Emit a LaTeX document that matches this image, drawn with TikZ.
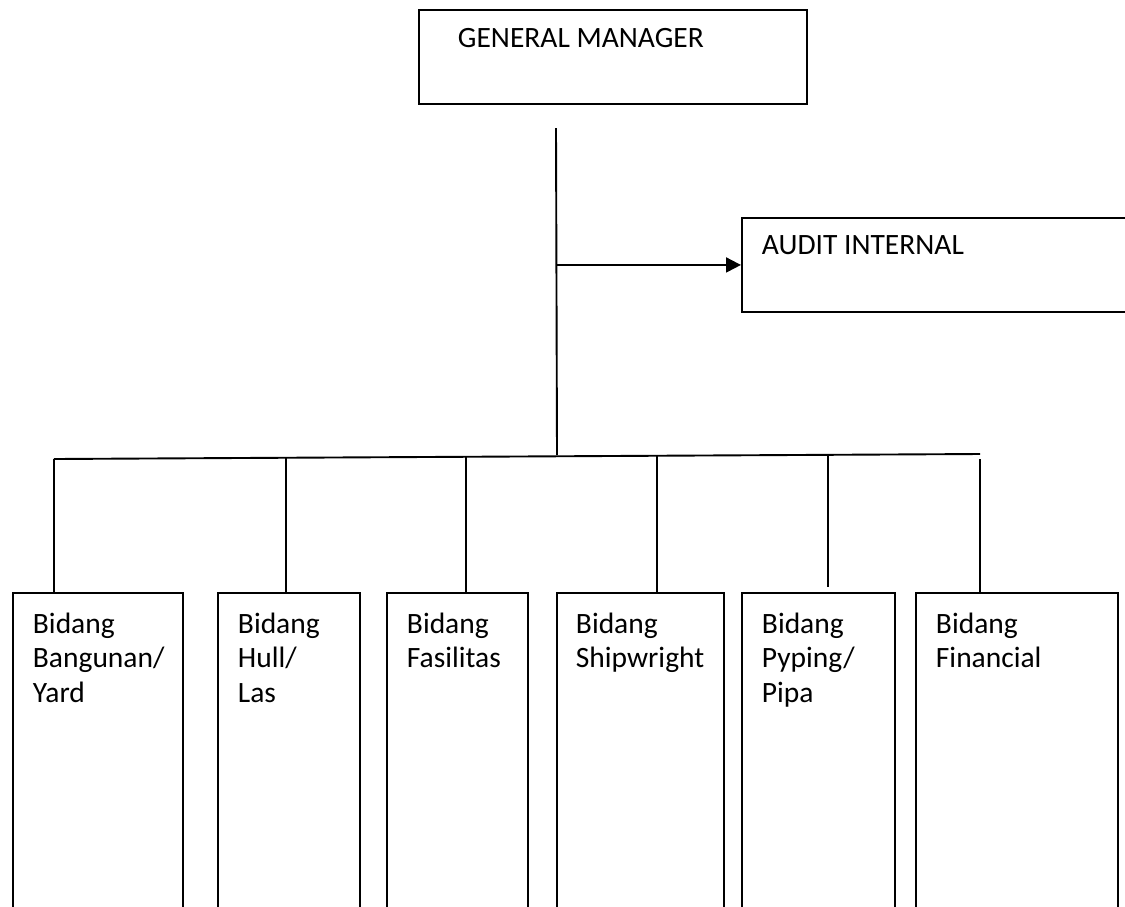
\documentclass[tikz,border=0pt]{standalone}
\usepackage{fontspec}
\setmainfont{Carlito}
\usetikzlibrary{arrows.meta}

\begin{document}
\begin{tikzpicture}[x=1pt, y=-1pt, line width=1.9pt,
    font=\fontsize{29.5}{34.5}\selectfont,
    box/.style={draw, rectangle, inner sep=0pt, anchor=north west},
    lbl/.style={anchor=base west, align=left, inner sep=0pt},
    arrow/.style={-{Triangle[length=15pt, width=15pt]}}]
  \useasboundingbox (0,0) rectangle (1125,906);
  \clip (0,0) rectangle (1125,906);
  % top level
  \node[box, minimum width=388pt, minimum height=94pt] (gm) at (418,9) {};
  \node[lbl] (gm-t) at (457,47) {GENERAL MANAGER};
  \node[box, minimum width=400pt, minimum height=94pt] (audit) at (741,217) {};
  \node[lbl] (audit-t) at (761,254) {AUDIT INTERNAL};
  % bidang boxes
  \node[box, minimum width=170pt, minimum height=340pt] (bangunan) at (12,592) {};
  \node[box, minimum width=142pt, minimum height=340pt] (hull) at (217,592) {};
  \node[box, minimum width=141pt, minimum height=340pt] (fasilitas) at (386,592) {};
  \node[box, minimum width=167pt, minimum height=340pt] (shipwright) at (556,592) {};
  \node[box, minimum width=153pt, minimum height=340pt] (pyping) at (741,592) {};
  \node[box, minimum width=202pt, minimum height=340pt] (financial) at (915,592) {};
  % labels sit on the baseline of their last line
  \node[lbl] (bangunan-t) at (32,702) {Bidang\\Bangunan/\\Yard};
  \node[lbl] (hull-t) at (237,702) {Bidang\\Hull/\\Las};
  \node[lbl] (fasilitas-t) at (406,667.5) {Bidang\\Fasilitas};
  \node[lbl] (shipwright-t) at (575,667.5) {Bidang\\Shipwright};
  \node[lbl] (pyping-t) at (761,702) {Bidang\\Pyping/\\Pipa};
  \node[lbl] (financial-t) at (935,667.5) {Bidang\\Financial};
  % trunk and bus
  \coordinate (trunk-top) at (556,128);
  \coordinate (trunk-bot) at (557,455);
  \coordinate (tap) at (556,265);
  \coordinate (bus-l) at (54,459);
  \coordinate (bus-r) at (980,454);
  \draw (trunk-top) -- (trunk-bot);
  \draw[arrow] (tap) -- (audit.west);
  \draw (bus-l) -- (bus-r);
  % drops
  \coordinate (d1) at (54,459);
  \coordinate (d2) at (286,458);
  \coordinate (d3) at (466,457);
  \coordinate (d4) at (657,456);
  \coordinate (d5) at (828,455);
  \coordinate (d6) at (980,459);
  \draw (d1) -- (d1 |- bangunan.north);
  \draw (d2) -- (d2 |- hull.north);
  \draw (d3) -- (d3 |- fasilitas.north);
  \draw (d4) -- (d4 |- shipwright.north);
  \draw (d5) -- ([yshift=5pt]d5 |- pyping.north);
  \draw (d6) -- (d6 |- financial.north);
\end{tikzpicture}
\end{document}
